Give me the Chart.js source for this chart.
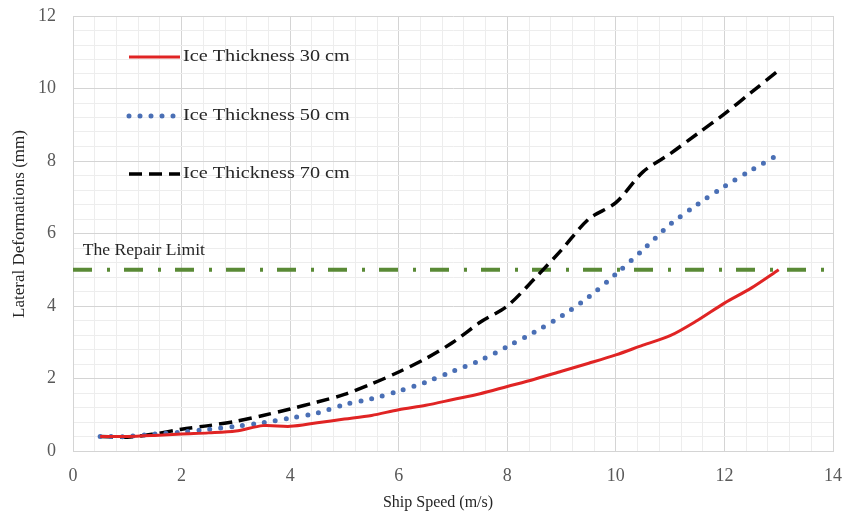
<!DOCTYPE html>
<html>
<head>
<meta charset="utf-8">
<script src="https://cdn.jsdelivr.net/npm/chart.js@4/dist/chart.umd.min.js"></script>
<style>
  html, body { margin: 0; padding: 0; background: #fff; }
  #wrap { width: 845px; height: 519px; }
</style>
</head>
<body>
<div id="wrap"><canvas id="chart"></canvas></div>
<script>
// vitesse du navire (m/s)
const speeds = [0.5, 1, 1.5, 2, 2.5, 3, 3.5, 4, 4.5, 5, 5.5, 6, 6.5, 7, 7.5, 8, 8.5, 9, 9.5, 10, 10.5, 11, 11.5, 12, 12.5, 13];
// deformations laterales (mm)
const ice30 = [0.4, 0.4, 0.43, 0.47, 0.5, 0.55, 0.7, 0.68, 0.78, 0.88, 0.98, 1.14, 1.26, 1.42, 1.58, 1.78, 1.98, 2.2, 2.42, 2.65, 2.92, 3.18, 3.6, 4.08, 4.5, 5.0];
const ice50 = [0.4, 0.4, 0.47, 0.52, 0.6, 0.68, 0.78, 0.91, 1.05, 1.28, 1.44, 1.65, 1.9, 2.2, 2.5, 2.88, 3.28, 3.72, 4.25, 4.88, 5.55, 6.25, 6.8, 7.3, 7.75, 8.18];
const ice70 = [0.4, 0.38, 0.47, 0.6, 0.7, 0.82, 0.98, 1.16, 1.35, 1.56, 1.85, 2.18, 2.55, 3.0, 3.55, 4.0, 4.75, 5.55, 6.4, 6.85, 7.7, 8.2, 8.75, 9.3, 9.9, 10.5];
// limite de reparation
const repairSpeeds = [0, 14];
const repairLimit = [5, 5];
const seriesLabels = ['Ice Thickness 30 cm', 'Ice Thickness 50 cm', 'Ice Thickness 70 cm'];
const repairLabel = 'The Repair Limit';
const xTitle = 'Ship Speed (m/s)';
const yTitle = 'Lateral Deformations (mm)';
const xTicks = [0, 2, 4, 6, 8, 10, 12, 14];
const yTicks = [0, 2, 4, 6, 8, 10, 12];

const serif = "'Liberation Serif', 'DejaVu Serif', serif";
const toPts = (xs, ys) => xs.map((x, i) => ({ x: x, y: ys[i] }));
const isMajor = v => Math.abs(v / 2 - Math.round(v / 2)) < 1e-6;

// texte etire un peu en largeur, comme dans l'image d'origine
function stretchText(ctx, txt, x, y, sx) {
  ctx.save();
  ctx.translate(x, y);
  ctx.scale(sx, 1);
  ctx.fillText(txt, 0, 0);
  ctx.restore();
}

// legende, titres des axes et texte de la limite dessines a la main
const customText = {
  id: 'customText',
  afterDraw(chart) {
    const ctx = chart.ctx;
    ctx.save();
    ctx.fillStyle = '#262626';
    ctx.textBaseline = 'middle';
    ctx.textAlign = 'left';
    ctx.font = '17px ' + serif;
    const rows = [57, 116, 174];
    for (let i = 0; i < 3; i++) {
      const ds = chart.data.datasets[i];
      ctx.beginPath();
      ctx.strokeStyle = ds.borderColor;
      ctx.lineWidth = ds.borderWidth;
      ctx.lineCap = ds.borderCapStyle || 'butt';
      ctx.setLineDash(ds.borderDash || []);
      ctx.moveTo(129, rows[i]);
      ctx.lineTo(180, rows[i]);
      ctx.stroke();
      ctx.setLineDash([]);
      stretchText(ctx, ds.label, 183, rows[i], 1.19);
    }
    const xs = chart.scales.x, ys = chart.scales.y;
    ctx.font = '16px ' + serif;
    stretchText(ctx, repairLabel, xs.getPixelForValue(0.18), ys.getPixelForValue(repairLimit[0]) - 19, 1.1);

    // titre de l'axe x
    ctx.textAlign = 'center';
    ctx.font = '16px ' + serif;
    ctx.fillText(xTitle, 438, 503);
    // titre de l'axe y
    ctx.translate(20, 224);
    ctx.rotate(-Math.PI / 2);
    ctx.font = '17px ' + serif;
    ctx.fillText(yTitle, 0, 0);
    ctx.restore();
  }
};

const ctx = document.getElementById('chart').getContext('2d');
new Chart(ctx, {
  type: 'line',
  data: {
    datasets: [
      {
        label: seriesLabels[0],
        data: toPts(speeds, ice30),
        borderColor: '#e02424',
        borderWidth: 3,
        pointRadius: 0,
        tension: 0.3
      },
      {
        label: seriesLabels[1],
        data: toPts(speeds, ice50),
        borderColor: '#4a6fb5',
        borderWidth: 5,
        borderDash: [0, 11],
        borderCapStyle: 'round',
        pointRadius: 0,
        tension: 0.3
      },
      {
        label: seriesLabels[2],
        data: toPts(speeds, ice70),
        borderColor: '#000000',
        borderWidth: 3.5,
        borderDash: [13, 7],
        pointRadius: 0,
        tension: 0.3
      },
      {
        label: repairLabel,
        data: toPts(repairSpeeds, repairLimit),
        borderColor: '#5a8a36',
        borderWidth: 4,
        borderDash: [19, 15, 3, 14],
        pointRadius: 0
      }
    ]
  },
  options: {
    responsive: true,
    maintainAspectRatio: false,
    animation: false,
    layout: { padding: { left: 0, top: 16, right: 12, bottom: 0 } },
    plugins: {
      legend: { display: false },
      tooltip: { enabled: false }
    },
    scales: {
      x: {
        type: 'linear',
        min: xTicks[0],
        max: xTicks[xTicks.length - 1],
        afterFit(s) {
          s.height = 68;
          s.paddingLeft = 0;
          s.paddingRight = 0;
        },
        ticks: {
          stepSize: 0.4,
          autoSkip: false,
          maxRotation: 0,
          padding: 14,
          color: '#595959',
          font: { family: serif, size: 18 },
          callback: v => (isMajor(v) && xTicks.includes(Math.round(v))) ? String(Math.round(v)) : ''
        },
        grid: {
          drawTicks: false,
          color: c => isMajor(c.tick.value) ? '#d4d4d4' : '#ededed'
        },
        border: { color: '#d4d4d4' }
      },
      y: {
        min: yTicks[0],
        max: yTicks[yTicks.length - 1],
        afterFit(s) {
          s.width = 73;
          s.paddingTop = 0;
          s.paddingBottom = 0;
        },
        ticks: {
          stepSize: 0.4,
          autoSkip: false,
          padding: 17,
          color: '#595959',
          font: { family: serif, size: 18 },
          callback: v => (isMajor(v) && yTicks.includes(Math.round(v))) ? String(Math.round(v)) : ''
        },
        grid: {
          drawTicks: false,
          color: c => isMajor(c.tick.value) ? '#d4d4d4' : '#ededed'
        },
        border: { color: '#d4d4d4' }
      }
    }
  },
  plugins: [customText]
});
</script>
</body>
</html>
